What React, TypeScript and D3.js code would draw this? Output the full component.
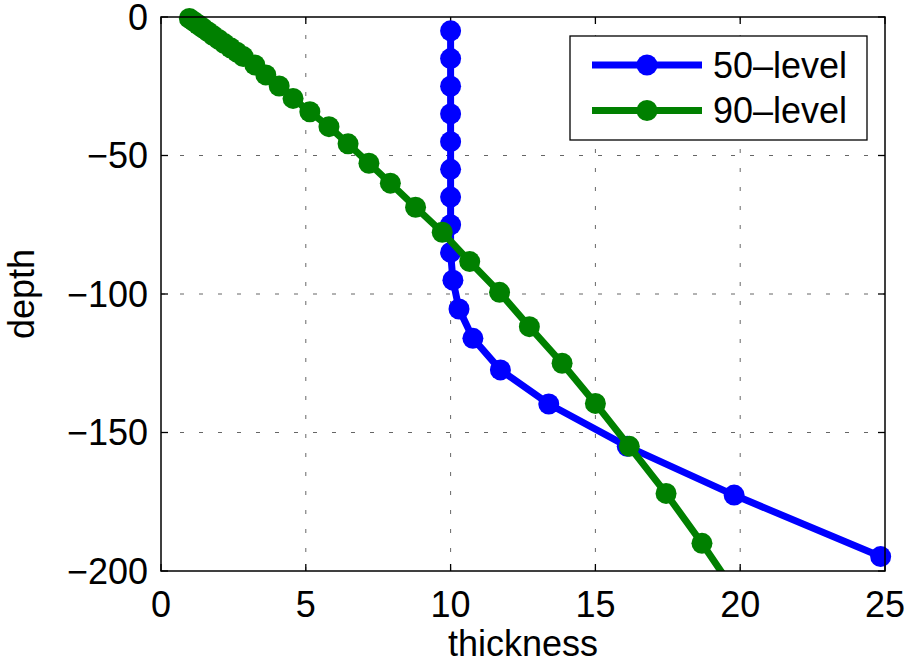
import React from "react";
import * as d3 from "d3";

const xTicks = [0, 5, 10, 15, 20, 25];
const yTicks = [0, -50, -100, -150, -200];

const level50Depth = [-5, -15, -25, -35, -45, -55, -65, -75, -85, -95, -105.4, -116, -127.4, -139.7, -155, -172.6, -194.8];
const level50Thick = [10.0, 10.0, 10.0, 10.0, 10.0, 10.0, 10.0, 10.0, 10.0, 10.08, 10.29, 10.77, 11.72, 13.39, 16.1, 19.79, 24.85];

const level90Depth = [-0.5, -1.6, -2.8, -4.0, -5.3, -6.7, -8.1, -9.6, -11.1, -12.7, -14.3, -17.3, -20.9, -24.9, -29.4, -34.2, -39.6, -45.8, -52.8, -60.0, -68.7, -77.7, -88.3, -99.4, -111.8, -125.0, -139.5, -155.0, -172.0, -190.0, -210.0];
const level90Thick = [0.98, 1.13, 1.29, 1.45, 1.62, 1.8, 1.99, 2.19, 2.4, 2.62, 2.84, 3.24, 3.62, 4.08, 4.56, 5.14, 5.8, 6.46, 7.18, 7.92, 8.79, 9.71, 10.66, 11.69, 12.72, 13.85, 15.0, 16.17, 17.44, 18.68, 19.98];

const seriesNames = ["50\u2013level", "90\u2013level"];
const seriesColors = ["#0000ff", "#008000"];

const W = 912, H = 668;
const L = 161, R = 885, T = 17, B = 571;
const FONT = "'Liberation Sans', Arial, Helvetica, sans-serif";
const FS = 36;

export default function App() {
  const x = d3.scaleLinear().domain([0, 25]).range([L, R]);
  const y = d3.scaleLinear().domain([-200, 0]).range([B, T]);
  const series = [
    { name: seriesNames[0], color: seriesColors[0], pts: level50Depth.map((d, i) => ({ x: level50Thick[i], y: d })) },
    { name: seriesNames[1], color: seriesColors[1], pts: level90Depth.map((d, i) => ({ x: level90Thick[i], y: d })) },
  ];
  const line = d3.line<{ x: number; y: number }>().x((p) => x(p.x)).y((p) => y(p.y));
  const inDomain = (p: { x: number; y: number }) => p.x >= 0 && p.x <= 25 && p.y >= -200 && p.y <= 0;
  const tk = 7;
  const lw = 7;
  const mr = 10.5;

  return (
    <div style={{ position: "fixed", left: 0, top: 0, width: W, height: H, background: "#fff" }}>
      <svg width={W} height={H} style={{ display: "block" }} fontFamily={FONT}>
        <defs>
          <clipPath id="plotclip">
            <rect x={L} y={T} width={R - L} height={B - T} />
          </clipPath>
        </defs>
        <rect x={0} y={0} width={W} height={H} fill="#fff" />
        {/* grid */}
        {xTicks.slice(1, -1).map((t) => (
          <line key={"gx" + t} x1={x(t)} x2={x(t)} y1={B} y2={T} stroke="#000" strokeOpacity={0.6} strokeWidth={1} strokeDasharray="4 15" />
        ))}
        {yTicks.slice(1, -1).map((t) => (
          <line key={"gy" + t} x1={L} x2={R} y1={y(t)} y2={y(t)} stroke="#000" strokeOpacity={0.6} strokeWidth={1} strokeDasharray="4 15" />
        ))}
        {/* ticks */}
        {xTicks.map((t) => (
          <g key={"tx" + t}>
            <line x1={x(t)} x2={x(t)} y1={B} y2={B - tk} stroke="#000" strokeWidth={1.3} />
            <line x1={x(t)} x2={x(t)} y1={T} y2={T + tk} stroke="#000" strokeWidth={1.3} />
            <text x={x(t)} y={617} textAnchor="middle" fontSize={FS} fill="#000">{t}</text>
          </g>
        ))}
        {yTicks.map((t) => (
          <g key={"ty" + t}>
            <line x1={L} x2={L + tk} y1={y(t)} y2={y(t)} stroke="#000" strokeWidth={1.3} />
            <line x1={R} x2={R - tk} y1={y(t)} y2={y(t)} stroke="#000" strokeWidth={1.3} />
            <text x={148} y={y(t) + 12.9} textAnchor="end" fontSize={FS} fill="#000">{t < 0 ? "\u2212" + Math.abs(t) : String(t)}</text>
          </g>
        ))}
        {/* series */}
        {series.map((s) => (
          <g key={s.name}>
            <path d={line(s.pts) || ""} fill="none" stroke={s.color} strokeWidth={lw} strokeLinejoin="round" clipPath="url(#plotclip)" />
            {s.pts.filter(inDomain).map((p, i) => (
              <circle key={i} cx={x(p.x)} cy={y(p.y)} r={mr} fill={s.color} />
            ))}
          </g>
        ))}
        {/* axes box */}
        <rect x={L} y={T} width={R - L} height={B - T} fill="none" stroke="#000" strokeWidth={1.5} />
        {/* axis labels */}
        <text x={(L + R) / 2} y={656} textAnchor="middle" fontSize={FS} fill="#000">thickness</text>
        <text transform={`translate(${34},${(T + B) / 2}) rotate(-90)`} textAnchor="middle" fontSize={FS} fill="#000">depth</text>
        {/* legend */}
        <rect x={570} y={36} width={297} height={104} fill="#fff" stroke="#000" strokeWidth={1.3} />
        {series.map((s, i) => {
          const ly = i === 0 ? 65 : 110.5;
          return (
            <g key={"lg" + i}>
              <line x1={592} x2={702} y1={ly} y2={ly} stroke={s.color} strokeWidth={lw} />
              <circle cx={647} cy={ly} r={mr} fill={s.color} />
              <text x={713} y={ly + 12.9} fontSize={FS} fill="#000">{s.name}</text>
            </g>
          );
        })}
      </svg>
    </div>
  );
}
